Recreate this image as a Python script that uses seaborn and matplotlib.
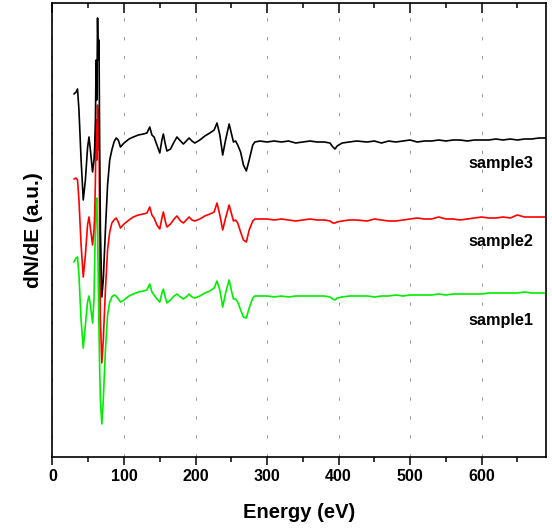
import numpy as np
import pandas as pd
import seaborn as sns
import matplotlib.pyplot as plt
from matplotlib.ticker import MultipleLocator, NullFormatter

# AES spectra (derivative mode), already stacked with offsets
energy = [30, 33, 35, 37, 40, 43, 46, 49, 51, 53,
          56, 58, 59, 60, 61, 62, 63, 64, 65, 66,
          67, 69, 71, 74, 77, 80, 83, 86, 89, 92,
          95, 100, 107, 113, 120, 127, 132, 136, 139, 142,
          146, 150, 153, 155, 158, 160, 165, 170, 174, 179,
          183, 187, 191, 195, 199, 206, 213, 220, 226, 230,
          234, 238, 242, 247, 250, 253, 256, 259, 263, 267,
          271, 275, 280, 283, 290, 300, 310, 320, 330, 340,
          350, 360, 370, 380, 388, 392, 395, 398, 405, 415,
          425, 440, 450, 460, 470, 480, 490, 500, 510, 520,
          530, 540, 550, 560, 570, 580, 590, 600, 610, 620,
          630, 640, 650, 660, 670, 680, 690]

sample3 = [366, 368, 371, 350, 300, 260, 280, 312, 323, 310,
           288, 300, 313, 340, 400, 360, 442, 400, 420, 310,
           230, 163, 180, 230, 275, 300, 310, 318, 322, 320,
           313, 317, 321, 323, 325, 326, 327, 333, 325, 323,
           315, 307, 320, 326, 315, 309, 311, 318, 323, 319,
           316, 319, 322, 319, 317, 320, 324, 327, 330, 337,
           325, 305, 320, 336, 327, 318, 319, 315, 308, 295,
           289, 300, 315, 318, 319, 318, 319, 318, 319, 317,
           318, 319, 318, 318, 317, 313, 311, 314, 317, 318,
           319, 318, 319, 317, 319, 318, 319, 320, 318, 319,
           319, 320, 319, 320, 320, 319, 320, 320, 320, 321,
           320, 321, 320, 321, 321, 322, 322]

sample2 = [281, 282, 280, 260, 215, 183, 205, 235, 243, 232,
           215, 230, 245, 280, 340, 300, 355, 310, 350, 210,
           140, 97, 120, 170, 210, 228, 237, 240, 242, 238,
           232, 236, 240, 243, 245, 246, 247, 253, 245, 242,
           235, 231, 242, 248, 238, 233, 236, 241, 244, 239,
           237, 240, 243, 240, 239, 241, 244, 246, 248, 257,
           245, 230, 242, 255, 247, 239, 240, 237, 228, 220,
           218, 230, 239, 241, 241, 241, 240, 241, 240, 239,
           240, 241, 240, 240, 239, 237, 237, 238, 239, 240,
           240, 239, 241, 240, 239, 239, 240, 241, 242, 241,
           241, 243, 241, 241, 240, 241, 242, 243, 242, 242,
           243, 242, 245, 243, 243, 243, 243]

sample1 = [198, 202, 203, 185, 140, 112, 135, 158, 164, 155,
           137, 160, 200, 230, 255, 262, 230, 180, 130, 90,
           60, 36, 60, 110, 145, 158, 163, 165, 164, 161,
           158, 160, 164, 166, 168, 169, 170, 176, 168, 165,
           161, 158, 167, 171, 162, 157, 160, 164, 166, 163,
           161, 163, 166, 163, 162, 164, 167, 169, 172, 179,
           170, 153, 167, 180, 170, 161, 161, 158, 150, 143,
           142, 152, 162, 164, 164, 164, 163, 164, 163, 164,
           164, 164, 164, 164, 163, 161, 160, 162, 163, 164,
           164, 164, 163, 164, 164, 165, 164, 165, 165, 165,
           165, 166, 165, 166, 166, 166, 166, 166, 167, 167,
           167, 167, 167, 168, 167, 167, 167]

samples = ['sample1', 'sample2', 'sample3']
colors = {'sample1': '#00ee00', 'sample2': '#ff0000', 'sample3': '#000000'}
label_y = {'sample1': 140, 'sample2': 219, 'sample3': 297}

df = pd.concat([
    pd.DataFrame({'Energy': energy, 'dNdE': vals, 'sample': name})
    for name, vals in zip(samples, [sample1, sample2, sample3])
])

sns.set_style('ticks')
plt.rcParams['font.family'] = ['Liberation Sans', 'DejaVu Sans']
plt.rcParams['font.weight'] = 'bold'
plt.rcParams['text.color'] = 'black'
plt.rcParams['axes.labelcolor'] = 'black'
plt.rcParams['xtick.color'] = 'black'

fig = plt.figure(figsize=(5.52, 5.30), dpi=100)
ax = fig.add_axes([0.0951, 0.1383, 0.894, 0.8566])

sns.lineplot(data=df, x='Energy', y='dNdE', hue='sample', hue_order=samples,
             palette=colors, estimator=None, linewidth=1.2, legend=False, ax=ax)

for name in samples:
    ax.text(673, label_y[name], name, ha='right', va='center',
            fontsize=11.7, fontweight='bold', color='black')

ax.set_xlim(0, 690)
ax.set_ylim(3.3, 457.3)
ax.xaxis.set_major_locator(MultipleLocator(100))
ax.xaxis.set_minor_locator(MultipleLocator(50))
ax.set_yticks([])
ax.grid(axis='x', which='major', color='#9a9a9a', linewidth=0.7,
        linestyle=(0, (3.5, 16)))

ax.tick_params(axis='x', which='major', direction='out', length=5.8, width=1.1,
               labelsize=11.5, pad=3, colors='black')
ax.tick_params(axis='x', which='minor', direction='out', length=3.6, width=1.1)
for lbl in ax.get_xticklabels():
    lbl.set_fontweight('bold')

top = ax.secondary_xaxis('top')
top.xaxis.set_major_locator(MultipleLocator(100))
top.xaxis.set_minor_locator(MultipleLocator(50))
top.xaxis.set_major_formatter(NullFormatter())
top.tick_params(axis='x', which='major', direction='in', length=7.2, width=1.1)
top.tick_params(axis='x', which='minor', direction='in', length=3.6, width=1.1)
top.spines['top'].set_visible(False)

for s in ax.spines.values():
    s.set_linewidth(1.2)
    s.set_color('black')

ax.set_xlabel('Energy (eV)', fontsize=14.5, fontweight='bold', labelpad=13.5, color='black')
ax.set_ylabel('dN/dE (a.u.)', fontsize=15, fontweight='bold', labelpad=7, color='black')

fig.savefig('out.png', dpi=100)
